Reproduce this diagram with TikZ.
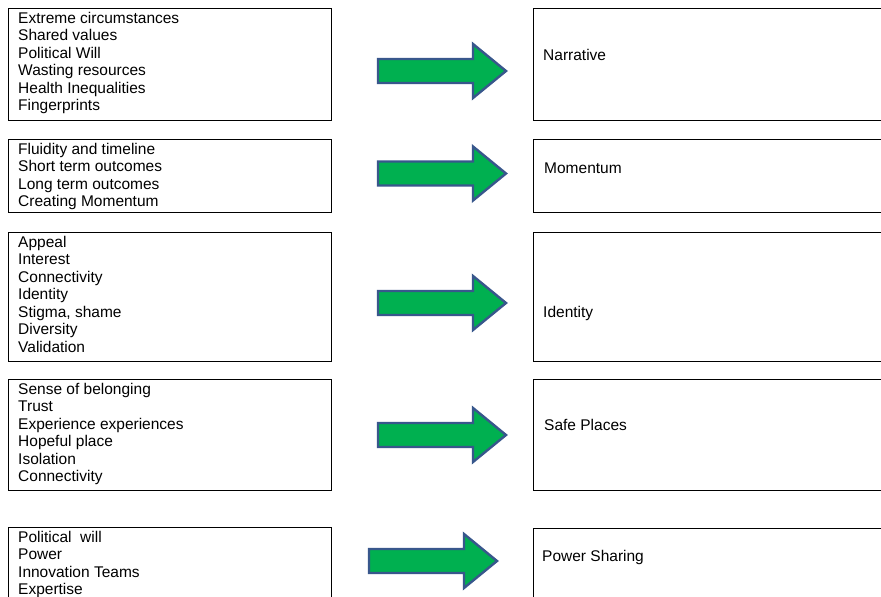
\documentclass[tikz,border=0pt]{standalone}
\usepackage{fontspec}
\setmainfont{Liberation Sans}
\usepackage{tikz}
\usetikzlibrary{positioning, calc}
\definecolor{ArrowGreen}{RGB}{0, 176, 80}
\definecolor{ArrowEdge}{RGB}{56, 87, 140}

\tikzset{
  box/.style={draw=black, line width=1.3pt, anchor=north west, inner sep=0pt},
  itemlist/.style={anchor=north west, align=left, inner sep=0pt,
    font=\fontsize{15.5}{17.5}\selectfont},
  heading/.style={anchor=west, inner sep=0pt, text height=11.1pt, text depth=0pt,
    font=\fontsize{15.5}{17.5}\selectfont},
  blockarrow/.style={fill=ArrowGreen, draw=ArrowEdge, line width=2.4pt, line join=miter}
}

\begin{document}
\begin{tikzpicture}[x=1pt, y=-1pt]
  \useasboundingbox (0,0) rectangle (881,597);
  \fill[white] (0,0) rectangle (881,597);
  \clip (0,0) rectangle (881,597);

  % left column
  \node[box, minimum width=323.5pt, minimum height=112pt] (in1) at (7.5,8) {};
  \node[box, minimum width=323.5pt, minimum height=73pt]  (in2) at (7.5,139) {};
  \node[box, minimum width=323.5pt, minimum height=129pt] (in3) at (7.5,232) {};
  \node[box, minimum width=323.5pt, minimum height=111pt] (in4) at (7.5,379) {};
  \node[box, minimum width=323.5pt, minimum height=90pt]  (in5) at (7.5,527) {};

  \node[itemlist] (in1text) at ($(in1.north west)+(10.5,4)$) {Extreme circumstances\\Shared values\\Political Will\\Wasting resources\\Health Inequalities\\Fingerprints};
  \node[itemlist] (in2text) at ($(in2.north west)+(10.5,4)$) {Fluidity and timeline\\Short term outcomes\\Long term outcomes\\Creating Momentum};
  \node[itemlist] (in3text) at ($(in3.north west)+(10.5,4)$) {Appeal\\Interest\\Connectivity\\Identity\\Stigma, shame\\Diversity\\Validation};
  \node[itemlist] (in4text) at ($(in4.north west)+(10.5,4)$) {Sense of belonging\\Trust\\Experience experiences\\Hopeful place\\Isolation\\Connectivity};
  \node[itemlist] (in5text) at ($(in5.north west)+(10.5,4)$) {Political\ \ will\\Power\\Innovation Teams\\Expertise};

  % right column
  \node[box, minimum width=360pt, minimum height=112pt] (out1) at (533,8) {};
  \node[box, minimum width=360pt, minimum height=73pt]  (out2) at (533,139) {};
  \node[box, minimum width=360pt, minimum height=129pt] (out3) at (533,232) {};
  \node[box, minimum width=360pt, minimum height=111pt] (out4) at (533,379) {};
  \node[box, minimum width=360pt, minimum height=90pt]  (out5) at (533,528) {};

  \node[heading] (out1text) at (543,55)  {Narrative};
  \node[heading] (out2text) at (544,168) {Momentum};
  \node[heading] (out3text) at (543,312) {Identity};
  \node[heading] (out4text) at (544,425) {Safe Places};
  \node[heading] (out5text) at (542,556) {Power Sharing};

  % block arrows
  \foreach \name/\x/\y in {a1/378/71, a2/378/173.5, a3/378/303, a4/378/435, a5/369/561} {
    \coordinate (\name) at (\x,\y);
    \draw[blockarrow] (\name) ++(0,-12) -- ++(95,0) -- ++(0,-15) -- ++(33,27)
      -- ++(-33,27) -- ++(0,-15) -- ++(-95,0) -- cycle;
  }
\end{tikzpicture}
\end{document}
